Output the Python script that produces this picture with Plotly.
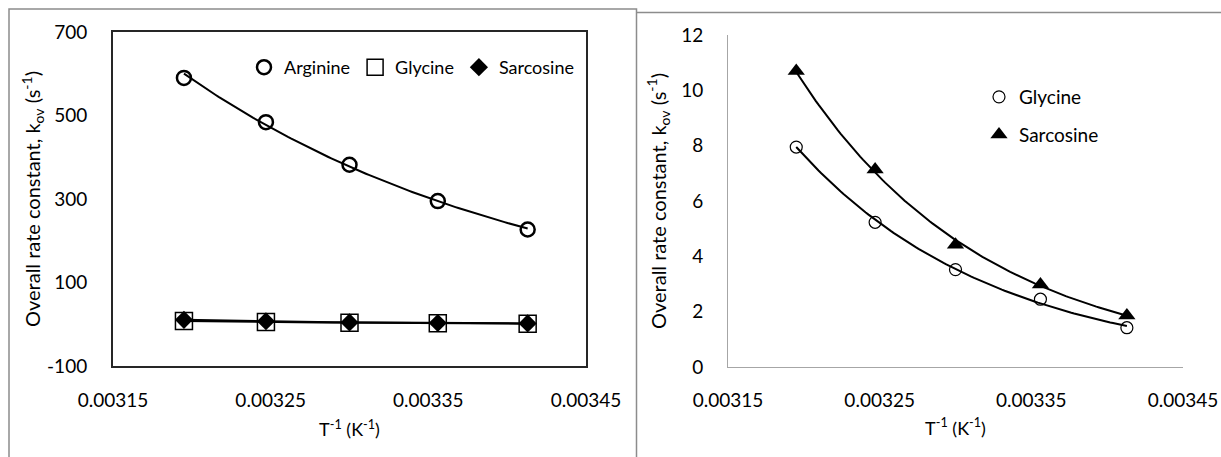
import numpy as np
import plotly.graph_objects as go

# ---- data ----
inv_T = [0.003195, 0.003247, 0.003300, 0.003356, 0.003413]
arginine = [590.0, 484.0, 382.0, 295.0, 227.0]
glycine = [7.95, 5.23, 3.52, 2.45, 1.42]
sarcosine = [10.7, 7.14, 4.42, 2.98, 1.86]

x_ticks = [0.00315, 0.00325, 0.00335, 0.00345]
x_tick_labels = ["0.00315", "0.00325", "0.00335", "0.00345"]
left_y_ticks = [-100, 100, 300, 500, 700]
left_y_labels = ["-100", "100", "300", "500", "700"]
right_y_ticks = [0, 2, 4, 6, 8, 10, 12]

FONT = "Lato"
W, H = 1221, 457


def exp_fit(x, y):
    x = np.asarray(x)
    b, a = np.polyfit(x, np.log(np.asarray(y)), 1)
    xs = np.linspace(x.min(), x.max(), 120)
    return xs, np.exp(a + b * xs)


fig = go.Figure()

# ---- left panel ----
for ys in (arginine, glycine, sarcosine):
    xs, yf = exp_fit(inv_T, ys)
    fig.add_trace(go.Scatter(x=xs, y=yf, mode="lines", line=dict(color="black", width=2),
                             showlegend=False, hoverinfo="skip", xaxis="x", yaxis="y"))

fig.add_trace(go.Scatter(x=inv_T, y=arginine, mode="markers", name="Arginine",
                         marker=dict(symbol="circle-open", size=14, color="black",
                                     line=dict(color="black", width=2.5)),
                         xaxis="x", yaxis="y", legend="legend"))
fig.add_trace(go.Scatter(x=inv_T, y=glycine, mode="markers", name="Glycine",
                         marker=dict(symbol="square-open", size=17, color="black",
                                     line=dict(color="black", width=1.5)),
                         xaxis="x", yaxis="y", legend="legend"))
fig.add_trace(go.Scatter(x=inv_T, y=sarcosine, mode="markers", name="Sarcosine",
                         marker=dict(symbol="diamond", size=14, color="black"),
                         xaxis="x", yaxis="y", legend="legend"))

# ---- right panel ----
for ys in (glycine, sarcosine):
    xs, yf = exp_fit(inv_T, ys)
    fig.add_trace(go.Scatter(x=xs, y=yf, mode="lines", line=dict(color="black", width=2),
                             showlegend=False, hoverinfo="skip", xaxis="x2", yaxis="y2"))

fig.add_trace(go.Scatter(x=inv_T, y=glycine, mode="markers", name="Glycine",
                         legendgroup="g2",
                         marker=dict(symbol="circle-open", size=12, color="black",
                                     line=dict(color="black", width=1.2)),
                         xaxis="x2", yaxis="y2", legend="legend2"))
fig.add_trace(go.Scatter(x=inv_T, y=sarcosine, mode="markers", name="Sarcosine",
                         legendgroup="s2",
                         marker=dict(symbol="triangle-up", size=15, color="black"),
                         xaxis="x2", yaxis="y2", legend="legend2"))

ytitle = "Overall rate constant, k<sub>ov</sub> (s<sup>-1</sup>)"
xtitle = "T<sup>-1</sup> (K<sup>-1</sup>)"
tickfont = dict(family=FONT, size=19, color="black")
ytitlefont = dict(family=FONT, size=20, color="black")
xtitlefont = dict(family=FONT, size=18, color="black")

common_x = dict(range=[0.00315, 0.00345], tickvals=x_ticks, ticktext=x_tick_labels,
                showgrid=False, zeroline=False, ticks="", tickfont=tickfont,
                ticklabelstandoff=16, automargin=False)

fig.update_layout(
    width=W, height=H,
    margin=dict(l=0, r=0, t=0, b=0),
    paper_bgcolor="white", plot_bgcolor="white",
    font=dict(family=FONT, color="black"),
    xaxis=dict(domain=[113 / W, 586 / W], anchor="y",
               showline=True, linecolor="#262626", linewidth=2, mirror=True,
               title=dict(text=xtitle, font=xtitlefont, standoff=14), **common_x),
    yaxis=dict(domain=[1 - 366 / H, 1 - 32 / H], anchor="x",
               range=[-100, 700], tickvals=left_y_ticks, ticktext=left_y_labels,
               showline=True, linecolor="#262626", linewidth=2, mirror=True,
               showgrid=False, zeroline=False, ticks="", tickfont=tickfont,
               ticklabelstandoff=20, automargin=False,
               title=dict(text=ytitle, font=ytitlefont, standoff=1)),
    xaxis2=dict(domain=[728 / W, 1183 / W], anchor="y2",
                showline=True, linecolor="#a6a6a6", linewidth=1,
                title=dict(text=xtitle, font=xtitlefont, standoff=12), **common_x),
    yaxis2=dict(domain=[1 - 367 / H, 1 - 35 / H], anchor="x2",
                range=[0, 12], tickvals=right_y_ticks,
                showline=True, linecolor="#a6a6a6", linewidth=1,
                showgrid=False, zeroline=False, ticks="", tickfont=tickfont,
                ticklabelstandoff=20, automargin=False,
                title=dict(text=ytitle, font=ytitlefont, standoff=9)),
    legend=dict(orientation="h", x=244 / W, y=1 - 49 / H, xanchor="left", yanchor="top",
                bgcolor="rgba(0,0,0,0)", font=dict(family=FONT, size=18, color="black"),
                itemwidth=30, tracegroupgap=0),
    legend2=dict(orientation="v", x=979 / W, y=1 - 78 / H, xanchor="left", yanchor="top",
                 bgcolor="rgba(0,0,0,0)", font=dict(family=FONT, size=19, color="black"),
                 itemwidth=30, tracegroupgap=10),
    shapes=[
        dict(type="rect", xref="paper", yref="paper",
             x0=9 / W, x1=636.5 / W, y0=-0.05, y1=1 - 9 / H,
             line=dict(color="#8c8c8c", width=1.5), layer="below"),
        dict(type="line", xref="paper", yref="paper",
             x0=636.5 / W, x1=1.05, y0=1 - 12.5 / H, y1=1 - 12.5 / H,
             line=dict(color="#8c8c8c", width=1.5)),
    ],
)

fig.write_html("out.html")
